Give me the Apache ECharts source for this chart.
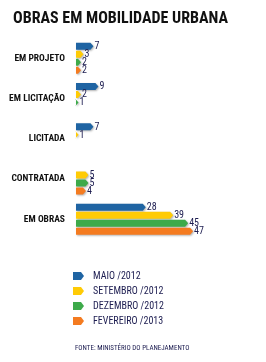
<!DOCTYPE html>
<html><head><meta charset="utf-8">
<script src="https://cdn.jsdelivr.net/npm/echarts@6/dist/echarts.min.js"></script>
<style>html,body{margin:0;padding:0;background:#fff}#c{width:266px;height:362px}</style>
</head><body><div id="c"></div>
<script>
const categories = ['EM PROJETO', 'EM LICITAÇÃO', 'LICITADA', 'CONTRATADA', 'EM OBRAS'];
const seriesNames = ['MAIO /2012', 'SETEMBRO /2012', 'DEZEMBRO /2012', 'FEVEREIRO /2013'];
const maio2012 = [7, 9, 7, null, 28];
const setembro2012 = [3, 2, 1, 5, 39];
const dezembro2012 = [2, 1, null, 5, 45];
const fevereiro2013 = [2, null, null, 4, 47];
const colors = ['#1f64a3', '#ffcb05', '#3daa4a', '#f47b20'];
const FONT = '"Roboto Condensed", sans-serif';
const allData = [maio2012, setembro2012, dezembro2012, fevereiro2013];

function makeRender(si) {
  return function (params, api) {
    const v = api.value(1);
    if (v == null || isNaN(v)) return null;
    const cat = api.value(0);
    const p0 = api.coord([0, cat]);
    const p1 = api.coord([v, cat]);
    const h = 7, pitch = 8;
    const yc = p0[1] + (si - 1.5) * pitch;
    const x0 = p0[0], x1 = p1[0];
    const tip = 3;
    return {
      type: 'group',
      children: [
        { type: 'polygon',
          shape: { points: [[x0, yc - h / 2], [x1 - tip, yc - h / 2], [x1, yc], [x1 - tip, yc + h / 2], [x0, yc + h / 2]] },
          style: { fill: colors[si], shadowBlur: 2, shadowColor: 'rgba(0,0,0,0.3)', shadowOffsetX: 1, shadowOffsetY: 1 } },
        { type: 'text',
          style: { text: String(v), x: x1 + 1, y: yc + 0.5, verticalAlign: 'middle', align: 'left',
                   font: '10px ' + FONT, fill: '#1c1c50' } }
      ]
    };
  };
}

const chart = echarts.init(document.getElementById('c'), null, { renderer: 'canvas' });
chart.setOption({
  animation: false,
  title: { text: 'OBRAS EM MOBILIDADE URBANA', left: 8, top: 6,
    textStyle: { fontFamily: FONT, fontSize: 16, fontWeight: 'bold', color: '#111' } },
  grid: { left: 76, top: 38, width: 149.5, height: 201.5 },
  xAxis: { type: 'value', min: 0, max: 60, show: false },
  yAxis: { type: 'category', data: categories, inverse: true,
    axisLine: { show: false }, axisTick: { show: false }, splitLine: { show: false },
    axisLabel: { margin: 11, fontFamily: FONT, fontSize: 9.5, fontWeight: 'bold', color: '#111' } },
  legend: { orient: 'vertical', left: 73, top: 271, padding: 0, itemWidth: 11, itemHeight: 8, itemGap: 5,
    icon: 'path://M0,0 L8,0 L11,4 L8,8 L0,8 Z',
    textStyle: { fontFamily: FONT, fontSize: 10, lineHeight: 10, color: '#1c1c50', padding: [0, 0, 0, 4] },
    data: seriesNames },
  graphic: [{ type: 'text', left: 75, top: 345,
    style: { text: 'FONTE: MINISTÉRIO DO PLANEJAMENTO', font: '7px ' + FONT, fill: '#1c1c50' } }],
  series: allData.map((d, si) => ({
    type: 'custom', name: seriesNames[si],
    itemStyle: { color: colors[si] },
    encode: { x: 1, y: 0 },
    data: d.map((v, i) => [i, v]),
    renderItem: makeRender(si)
  }))
});
</script></body></html>
